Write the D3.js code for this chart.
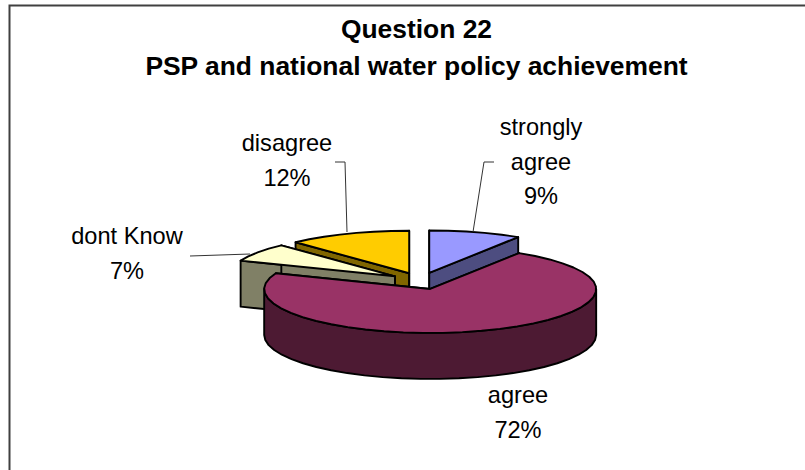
<!DOCTYPE html>
<html><head><meta charset="utf-8">
<script src="https://cdn.jsdelivr.net/npm/d3@7"></script>
<style>html,body{margin:0;padding:0;background:#fff}svg{display:block}text{font-family:"Liberation Sans",Arial,sans-serif;fill:#000}</style>
</head><body><svg id="c" width="805" height="470"></svg>
<script>
const categories = ["strongly agree","agree","dont Know","disagree"];
const values = [9,72,7,12];
const topColors = ["#9999ff","#993366","#ffffcc","#ffcc00"];
const sideColors = ["#4d4d80","#4d1a33","#808066","#806600"];
const titleLines = ["Question 22","PSP and national water policy achievement"];
const labelLines = [["strongly","agree","9%"],["agree","72%"],["dont Know","7%"],["disagree","12%"]];
const labelAnchors = [[541,135],[518,403],[127,244],[287,151]];
const leaders = [[[473,232],[484,162],[494,162]],[],[[190,256],[250,254]],[[347,232],[345,162],[335,162]]];

const svg = d3.select("#c");
const cx=420.6, cy=281, rx=166, ryBack=42.5, ryFront=44, depth=46, explode=31, tilt=0.27;
const pie = d3.pie().sort(null).value(d=>d)(values);
const px = d3.scaleLinear().domain([-1,1]).range([-rx,rx]);
const py = d3.scaleLinear().domain([-1,0,1]).range([-ryBack,0,ryFront]);
const slices = pie.map((p,i)=>{
  const mid=(p.startAngle+p.endAngle)/2;
  return {i,a0:p.startAngle,a1:p.endAngle,
    ax:cx+explode*Math.sin(mid), ay:cy-explode*tilt*Math.cos(mid)};
});
const pt=(s,a,dz=0)=>[s.ax+px(Math.sin(a)), s.ay+py(-Math.cos(a))+dz];
const arcPts=(s,a0,a1,dz=0)=>{
  const n=Math.max(2,Math.ceil(Math.abs(a1-a0)/0.12));
  return d3.range(n+1).map(k=>pt(s,a0+(a1-a0)*k/n,dz));
};
const line=d3.line().curve(d3.curveLinear);
function draw(d,fill){
  svg.append("path").attr("d",d).attr("fill",fill)
    .attr("stroke","#000").attr("stroke-width",1.9).attr("stroke-linejoin","round");
}
// frame
svg.append("path").attr("d","M9.5,470V5.5H805").attr("fill","none").attr("stroke","#404040").attr("stroke-width",2);
// draw order, back to front
[3,2,0,1].forEach(i=>{
  const s=slices[i], A=[s.ax,s.ay];
  // cut faces
  [s.a0,s.a1].forEach(a=>{
    const p=pt(s,a);
    draw(line([A,p,[p[0],p[1]+depth],[A[0],A[1]+depth]])+"Z",sideColors[i]);
  });
  // outer wall, only the part facing the viewer
  const w0=Math.max(s.a0,Math.PI/2), w1=Math.min(s.a1,Math.PI*1.5);
  if(w1>w0){
    const up=arcPts(s,w0,w1), dn=arcPts(s,w0,w1,depth).reverse();
    draw(line(up.concat(dn))+"Z",sideColors[i]);
  }
  draw(line([A].concat(arcPts(s,s.a0,s.a1)))+"Z",topColors[i]);
});
// leader lines
leaders.forEach(l=>{ if(l.length) svg.append("path").attr("d",line(l)).attr("fill","none").attr("stroke","#333").attr("stroke-width",1); });
// title
titleLines.forEach((t,i)=>svg.append("text").attr("x",416.5).attr("y",38+i*37).attr("text-anchor","middle").attr("font-weight","bold").attr("font-size",26.4).text(t));
// labels
labelLines.forEach((ls,i)=>ls.forEach((t,j)=>svg.append("text").attr("x",labelAnchors[i][0]).attr("y",labelAnchors[i][1]+j*34.5).attr("text-anchor","middle").attr("font-size",23.6).text(t)));
</script></body></html>
